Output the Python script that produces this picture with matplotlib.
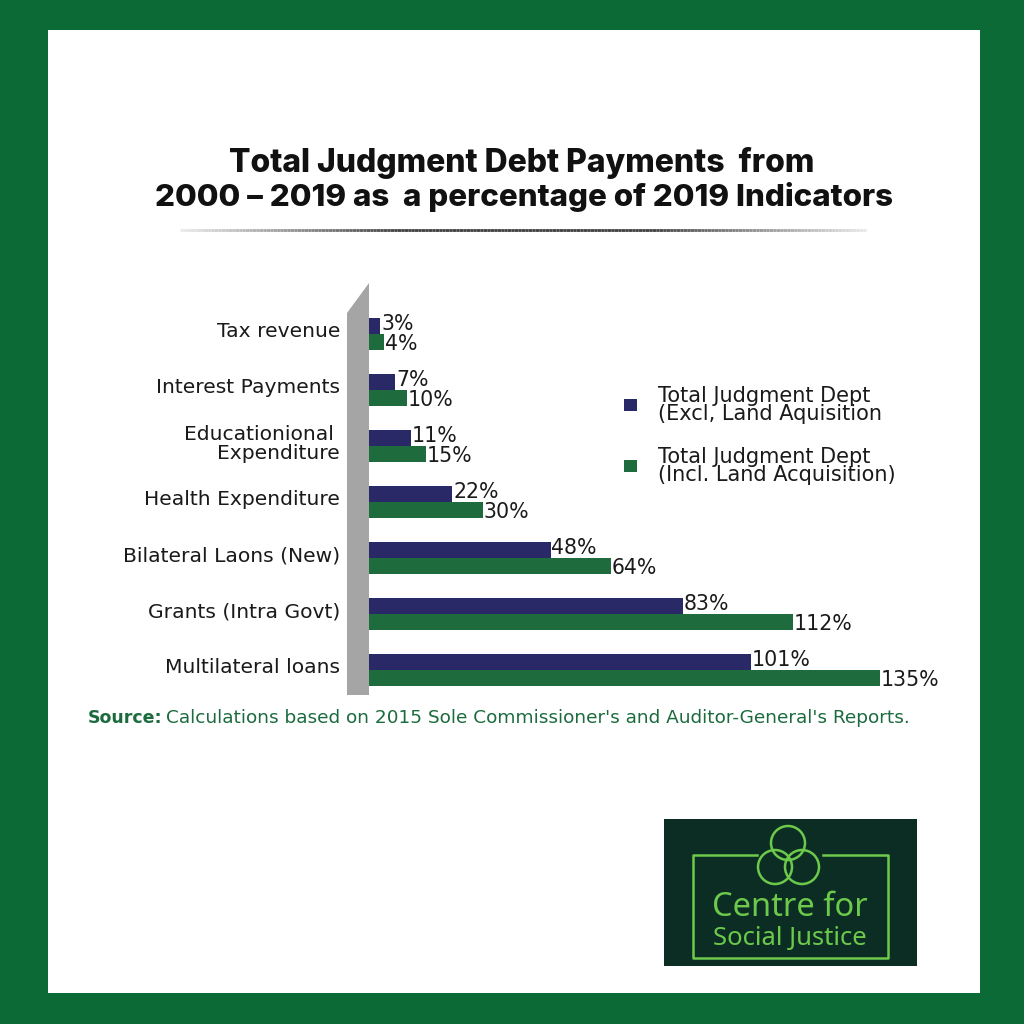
import matplotlib
matplotlib.use('Agg')
import matplotlib.pyplot as plt
from matplotlib.patches import Rectangle, Polygon, Circle
from matplotlib.collections import LineCollection
import numpy as np

categories = ['Tax revenue', 'Interest Payments', 'Educationional \nExpenditure',
              'Health Expenditure', 'Bilateral Laons (New)', 'Grants (Intra Govt)',
              'Multilateral loans']
excl_land = [3, 7, 11, 22, 48, 83, 101]
incl_land = [4, 10, 15, 30, 64, 112, 135]
series_names = ['Total Judgment Dept\n(Excl, Land Aquisition',
                'Total Judgment Dept\n(Incl. Land Acquisition)']

navy = '#2a2968'
green = '#1e6c3d'
border = '#0b6a36'
W = 1024.0
FONT = 'DejaVu Sans'


def fx(x):
    return x / W


def fy(y):
    return 1 - y / W


fig = plt.figure(figsize=(10.24, 10.24), dpi=100)
fig.patch.set_facecolor(border)

# white panel
fig.patches.append(Rectangle((fx(48), fy(993)), fx(980) - fx(48), fy(30) - fy(993),
                             transform=fig.transFigure, facecolor='white',
                             edgecolor='none', zorder=-2))

# title
fig.text(fx(522), fy(163), 'Total Judgment Debt Payments  from', ha='center', va='center',
         fontsize=23, fontweight='heavy', family='Inter', color='#111111')
fig.text(fx(524), fy(197), '2000 \u2013 2019 as  a percentage of 2019 Indicators', ha='center',
         va='center', fontsize=22.6, fontweight='heavy', family='Inter', color='#111111')

# divider under title (fading ends)
xs = np.linspace(180, 866, 200)
segs = [[(fx(xs[i]), fy(230)), (fx(xs[i + 1]), fy(230))] for i in range(len(xs) - 1)]
cols = []
for i in range(len(xs) - 1):
    t = (xs[i] - 180) / (866 - 180)
    a = min(1.0, 3 * min(t, 1 - t) + 0.05)
    g = 0.25 + 0.7 * (1 - a)
    cols.append((g, g, g, 1.0))
fig.add_artist(LineCollection(segs, colors=cols, linewidths=2.0, capstyle='butt',
                              transform=fig.transFigure))

# gray wall
fig.patches.append(Polygon([(fx(347), fy(313)), (fx(369), fy(283)), (fx(369), fy(695)),
                            (fx(347), fy(695))], closed=True, transform=fig.transFigure,
                           facecolor='#a5a5a5', edgecolor='none', zorder=-1))

# chart axes
px_per = 3.785
x0, x1 = 369, 369 + 160 * px_per
top, bot = 300, 700
ax = fig.add_axes([fx(x0), fy(bot), fx(x1) - fx(x0), fy(top) - fy(bot)])
ax.set_zorder(5)
ax.set_xlim(0, 160)
c0, step = 334, 56.0
ax.set_ylim((bot - c0) / step, (top - c0) / step)
ax.patch.set_alpha(0)
for s in ax.spines.values():
    s.set_visible(False)
ax.set_xticks([])
ax.set_yticks([])

y = np.arange(len(categories))
h = 0.28
ax.barh(y - h / 2, excl_land, height=h, color=navy)
ax.barh(y + h / 2, incl_land, height=h, color=green)
for i in range(len(categories)):
    ax.text(excl_land[i] + 0.2, y[i] - h / 2 - 0.03, f'{excl_land[i]}%', ha='left',
            va='center', fontsize=14.8, family=FONT, color='#1a1a1a')
    ax.text(incl_land[i] + 0.2, y[i] + h / 2 + 0.03, f'{incl_land[i]}%', ha='left',
            va='center', fontsize=14.8, family=FONT, color='#1a1a1a')
    ax.text(-29 / px_per, y[i] - 0.04, categories[i], ha='right', va='center',
            fontsize=14.6, family=FONT, color='#1a1a1a', linespacing=0.98)

# legend
for (ly, col, name) in [(405, navy, series_names[0]), (466, green, series_names[1])]:
    fig.patches.append(Rectangle((fx(624), fy(ly + 6)), fx(637) - fx(624), fy(ly - 6) - fy(ly + 6),
                                 transform=fig.transFigure, facecolor=col, edgecolor='none'))
    fig.text(fx(658), fy(ly), name, ha='left', va='center', fontsize=15, family=FONT,
             color='#1a1a1a', linespacing=0.92)

# source
src_col = '#1b6b3e'
fig.text(fx(88), fy(718), 'Source:', ha='left', va='center', fontsize=12.5,
         family=FONT, fontweight='bold', color=src_col)
fig.text(fx(166), fy(718), "Calculations based on 2015 Sole Commissioner's and Auditor-General's Reports.",
         ha='left', va='center', fontsize=13.3, family=FONT, color=src_col)

# logo
logo_bg = '#0c2d24'
lg = '#6cc94a'
fig.patches.append(Rectangle((fx(664), fy(966)), fx(917) - fx(664), fy(819) - fy(966),
                             transform=fig.transFigure, facecolor=logo_bg, edgecolor='none'))
lw = 1.8
fig.add_artist(plt.Line2D([fx(757), fx(693), fx(693), fx(888), fx(888), fx(823)],
                          [fy(855), fy(855), fy(958), fy(958), fy(855), fy(855)],
                          transform=fig.transFigure, color=lg, linewidth=lw))
for (cx, cy) in [(788, 843), (775, 867), (802, 867)]:
    fig.patches.append(Circle((fx(cx), fy(cy)), 17 / W, transform=fig.transFigure,
                              facecolor='none', edgecolor=lg, linewidth=lw))
fig.text(fx(790), fy(908), 'Centre for', ha='center', va='center', fontsize=23.5,
         family='Noto Sans', fontweight='medium', color=lg)
fig.text(fx(790), fy(939), 'Social Justice', ha='center', va='center', fontsize=18.5,
         family='Noto Sans', fontweight='medium', color=lg)

fig.savefig('out.png', dpi=100, facecolor=fig.get_facecolor())
